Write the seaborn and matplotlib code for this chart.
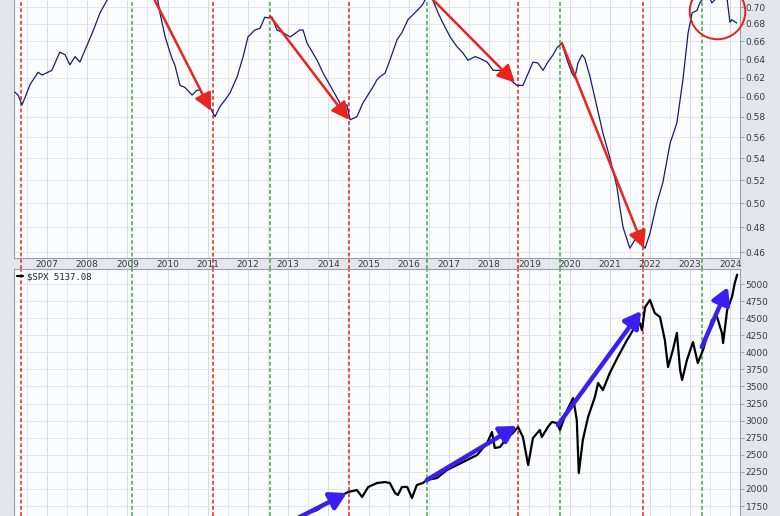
import numpy as np
import pandas as pd
import seaborn as sns
import matplotlib.pyplot as plt
from matplotlib.ticker import FixedLocator, FormatStrFormatter, MultipleLocator, NullLocator, NullFormatter

# ratio panel (top), decimal years
ratio_years = [2006.20, 2006.28, 2006.38, 2006.45, 2006.58, 2006.78, 2006.88, 2007.12, 2007.32, 2007.45,
               2007.57, 2007.70, 2007.82, 2008.02, 2008.14, 2008.32, 2008.49, 2008.70, 2008.95, 2009.25,
               2009.55, 2009.70, 2009.76, 2009.81, 2009.94, 2010.11, 2010.18, 2010.31, 2010.43, 2010.61,
               2010.73, 2010.81, 2010.93, 2011.05, 2011.18, 2011.30, 2011.43, 2011.55, 2011.73, 2011.88,
               2012.00, 2012.17, 2012.30, 2012.42, 2012.50, 2012.60, 2012.72, 2012.87, 2013.05, 2013.29,
               2013.37, 2013.47, 2013.72, 2013.87, 2014.11, 2014.34, 2014.46, 2014.54, 2014.71, 2014.86,
               2015.09, 2015.21, 2015.28, 2015.41, 2015.53, 2015.71, 2015.83, 2015.98, 2016.15, 2016.33,
               2016.40, 2016.50, 2016.60, 2016.73, 2016.85, 2017.03, 2017.20, 2017.35, 2017.47, 2017.65,
               2017.77, 2017.95, 2018.10, 2018.27, 2018.47, 2018.69, 2018.84, 2018.97, 2019.09, 2019.21,
               2019.34, 2019.46, 2019.59, 2019.69, 2019.81, 2019.94, 2020.06, 2020.13, 2020.21, 2020.31,
               2020.38, 2020.51, 2020.68, 2020.83, 2021.00, 2021.18, 2021.25, 2021.33, 2021.50, 2021.63,
               2021.75, 2021.88, 2022.00, 2022.17, 2022.32, 2022.50, 2022.67, 2022.82, 2022.95, 2023.05,
               2023.17, 2023.24, 2023.32, 2023.45, 2023.54, 2023.62, 2023.75, 2023.92, 2023.99, 2024.04,
               2024.16]
ratio_values = [0.605, 0.602, 0.592, 0.599, 0.613, 0.626, 0.623, 0.628, 0.648, 0.645,
                0.634, 0.643, 0.637, 0.658, 0.671, 0.693, 0.708, 0.725, 0.740, 0.745,
                0.728, 0.712, 0.708, 0.693, 0.665, 0.641, 0.634, 0.612, 0.610, 0.602,
                0.607, 0.607, 0.597, 0.590, 0.580, 0.590, 0.597, 0.604, 0.621, 0.643,
                0.665, 0.673, 0.675, 0.688, 0.687, 0.688, 0.673, 0.670, 0.665, 0.673,
                0.673, 0.658, 0.639, 0.625, 0.607, 0.590, 0.592, 0.577, 0.580, 0.594,
                0.609, 0.618, 0.621, 0.625, 0.639, 0.662, 0.670, 0.685, 0.693, 0.702,
                0.708, 0.716, 0.708, 0.693, 0.681, 0.665, 0.654, 0.647, 0.639, 0.643,
                0.641, 0.637, 0.628, 0.628, 0.620, 0.612, 0.612, 0.625, 0.637, 0.636,
                0.628, 0.637, 0.645, 0.653, 0.658, 0.639, 0.625, 0.620, 0.636, 0.645,
                0.641, 0.621, 0.590, 0.564, 0.541, 0.514, 0.497, 0.480, 0.463, 0.470,
                0.468, 0.463, 0.475, 0.500, 0.518, 0.554, 0.574, 0.618, 0.670, 0.693,
                0.696, 0.705, 0.710, 0.715, 0.705, 0.709, 0.715, 0.709, 0.682, 0.685,
                0.681]

# S&P 500 panel (bottom)
spx_years = [2006.20, 2007.00, 2007.80, 2008.70, 2009.20, 2010.00, 2011.30, 2011.75, 2012.50, 2013.00,
             2013.37, 2013.72, 2013.97, 2014.21, 2014.49, 2014.71, 2014.84, 2014.99, 2015.21, 2015.41,
             2015.53, 2015.66, 2015.73, 2015.83, 2015.96, 2016.08, 2016.20, 2016.35, 2016.45, 2016.70,
             2016.95, 2017.20, 2017.45, 2017.70, 2017.95, 2018.07, 2018.14, 2018.27, 2018.44, 2018.59,
             2018.72, 2018.84, 2018.97, 2019.09, 2019.26, 2019.31, 2019.46, 2019.56, 2019.69, 2019.76,
             2019.94, 2020.09, 2020.18, 2020.23, 2020.33, 2020.46, 2020.63, 2020.71, 2020.83, 2021.00,
             2021.20, 2021.43, 2021.58, 2021.75, 2021.80, 2021.88, 2022.00, 2022.12, 2022.25, 2022.37,
             2022.45, 2022.57, 2022.67, 2022.75, 2022.80, 2022.92, 2023.07, 2023.19, 2023.32, 2023.54,
             2023.67, 2023.79, 2023.82, 2023.92, 2024.04, 2024.11, 2024.17]
spx_values = [1290, 1420, 1550, 1250, 700, 1115, 1350, 1120, 1360, 1450,
              1618, 1691, 1794, 1867, 1955, 1984, 1882, 2028, 2087, 2101,
              2087, 1940, 1911, 2028, 2030, 1867, 2057, 2087, 2131, 2160,
              2277, 2350, 2423, 2497, 2672, 2833, 2599, 2614, 2745, 2819,
              2906, 2760, 2350, 2745, 2863, 2760, 2906, 2980, 2965, 2863,
              3155, 3331, 3009, 2233, 2716, 3053, 3346, 3551, 3448, 3697,
              3931, 4180, 4327, 4429, 4327, 4663, 4766, 4575, 4517, 4180,
              3785, 4034, 4283, 3741, 3595, 3887, 4151, 3843, 4034, 4473,
              4517, 4283, 4136, 4619, 4810, 5015, 5137]

red_cycles = [2006.35, 2011.13, 2014.51, 2018.72, 2021.83]
green_cycles = [2009.11, 2012.55, 2016.45, 2019.76, 2023.29]

ratio_ticks = [0.46, 0.48, 0.50, 0.52, 0.54, 0.56, 0.58, 0.60, 0.62, 0.64, 0.66, 0.68, 0.70]
spx_ticks = list(range(1750, 5001, 250))
year_ticks = list(range(2007, 2025))

# arrows: (start year, start value, end year, end value)
red_arrows = [(2009.56, 0.720, 2011.08, 0.586),
              (2012.55, 0.689, 2014.51, 0.577),
              (2016.48, 0.715, 2018.64, 0.615),
              (2019.81, 0.658, 2021.85, 0.463)]
blue_arrows = [(2013.19, 1560, 2014.46, 1940),
               (2016.45, 2131, 2018.69, 2921),
               (2019.71, 2936, 2021.78, 4605),
               (2023.29, 4078, 2023.94, 4956)]

sns.set_style('white')
plt.rcParams['font.family'] = ['DejaVu Sans']

fig = plt.figure(figsize=(7.8, 5.16), dpi=100, facecolor='#e3e7ed')
ax1 = fig.add_axes([14 / 780, 0.5, 726 / 780, 0.5])
ax2 = fig.add_axes([14 / 780, 0.0, 726 / 780, 247 / 516])

grid_col = '#dfe2e8'
spine_col = '#9a9ea6'
tick_col = '#3a3a3a'

for ax in (ax1, ax2):
    ax.set_facecolor('#fbfcfd')
    ax.set_xlim(2006.18, 2024.24)
    ax.xaxis.set_major_locator(FixedLocator(year_ticks))
    ax.xaxis.set_minor_locator(MultipleLocator(0.5))
    ax.grid(which='major', axis='x', color='#d6dae1', lw=0.7)
    ax.grid(which='minor', axis='x', color=grid_col, lw=0.6)
    ax.grid(which='major', axis='y', color=grid_col, lw=0.6)
    ax.yaxis.tick_right()
    ax.tick_params(axis='y', which='major', direction='out', length=3, width=0.6,
                   color=spine_col, pad=1, labelsize=6.5, labelcolor=tick_col)
    ax.tick_params(axis='x', which='both', length=0)
    for s in ax.spines.values():
        s.set_color(spine_col)
        s.set_linewidth(0.8)
    ax.set_axisbelow(True)

# top panel
sns.lineplot(x=ratio_years, y=ratio_values, ax=ax1, color='#1c1c6b', lw=0.9, zorder=3)
ax1.set_yscale('log')
ax1.set_ylim(0.4553, 0.7085)
ax1.yaxis.set_major_locator(FixedLocator(ratio_ticks))
ax1.yaxis.set_major_formatter(FormatStrFormatter('%.2f'))
ax1.yaxis.set_minor_locator(NullLocator())
ax1.yaxis.set_minor_formatter(NullFormatter())
ax1.xaxis.set_major_formatter(FormatStrFormatter('%d'))
ax1.tick_params(axis='x', labelsize=6.5, labelcolor=tick_col, pad=1.5)
ax1.spines['top'].set_visible(False)
ax1.set_xlabel('')
ax1.set_ylabel('')

# bottom panel
sns.lineplot(x=spx_years, y=spx_values, ax=ax2, color='black', lw=1.6, zorder=3,
             label=r'\$SPX 5137.08')
ax2.set_ylim(1604, 5220)
ax2.yaxis.set_major_locator(FixedLocator(spx_ticks))
ax2.yaxis.set_major_formatter(FormatStrFormatter('%d'))
ax2.tick_params(axis='x', labelbottom=False)
ax2.spines['bottom'].set_visible(False)
ax2.set_xlabel('')
ax2.set_ylabel('')
ax2.legend(loc='upper left', frameon=False, handlelength=0.7, handletextpad=0.4,
           borderaxespad=0.15, borderpad=0.2,
           prop={'family': 'DejaVu Sans Mono', 'size': 6.5})

# cycle lines
gap = 11 / 258
for yr, col in [(y, '#e0241c') for y in red_cycles] + [(y, '#3fa843') for y in green_cycles]:
    ax1.axvline(yr, ymin=-gap, ymax=1, color=col, lw=1.1, ls=(0, (2.5, 1.6)), zorder=2, clip_on=False)
    ax2.axvline(yr, color=col, lw=1.1, ls=(0, (2.5, 1.6)), zorder=2)

for x0, y0, x1, y1 in red_arrows:
    ax1.annotate('', xy=(x1, y1), xytext=(x0, y0),
                 arrowprops=dict(arrowstyle='-|>,head_length=0.75,head_width=0.38',
                                 color='#e8241c', lw=1.8, mutation_scale=14, shrinkA=0, shrinkB=0),
                 zorder=5)

for x0, y0, x1, y1 in blue_arrows:
    ax2.annotate('', xy=(x1, y1), xytext=(x0, y0),
                 arrowprops=dict(arrowstyle='-|>,head_length=0.7,head_width=0.4',
                                 color='#3a1ff0', lw=3.2, mutation_scale=14, shrinkA=0, shrinkB=0),
                 zorder=5)

# highlight circle on the latest readings
ax1.plot([2023.67], [0.6952], marker='o', ms=40, mfc='none', mec='#e0241c', mew=1.4,
         clip_on=False, zorder=6)

fig.savefig('out.png', dpi=100, facecolor=fig.get_facecolor())
